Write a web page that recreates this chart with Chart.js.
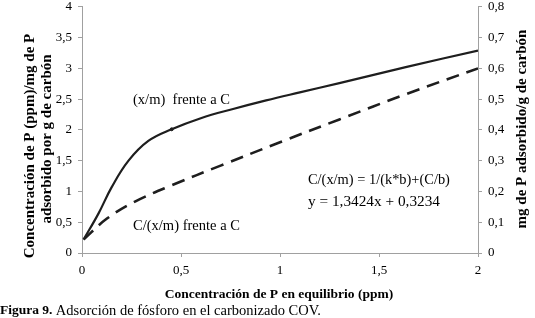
<!DOCTYPE html>
<html><head><meta charset="utf-8">
<script src="https://cdn.jsdelivr.net/npm/chart.js@4.4.1/dist/chart.umd.min.js"></script>
<style>html,body{margin:0;padding:0;background:#fff;overflow:hidden;}#wrap{position:relative;width:535px;height:318px;overflow:hidden;}#c{position:absolute;left:0;top:-7px;}</style>
</head><body><div id="wrap"><canvas id="c" width="535" height="325"></canvas></div>
<script>
const xTicks = [0, 0.5, 1, 1.5, 2];
const leftTicks = [0, 0.5, 1, 1.5, 2, 2.5, 3, 3.5, 4];
const rightTicks = [0, 0.1, 0.2, 0.3, 0.4, 0.5, 0.6, 0.7, 0.8];
// (x/m) frente a C  -> right axis (mg P / g carbón)
const cSolid = [0.008, 0.083, 0.15, 0.235, 0.335, 0.453, 0.6, 0.763, 0.93, 1.1, 1.3, 1.635, 2.0];
const xmSolid = [0.044, 0.128, 0.214, 0.300, 0.364, 0.402, 0.438, 0.468, 0.496, 0.522, 0.552, 0.604, 0.658];
// C/(x/m) frente a C -> left axis
const cDash = [0.008, 0.126, 0.27, 0.453, 0.7, 1.0, 1.3, 1.635, 2.0];
const cxmDash = [0.22, 0.56, 0.84, 1.10, 1.42, 1.80, 2.17, 2.58, 3.00];
const marker = [{x: 0.453, y: 0.402}];

const fmt = v => String(v).replace('.', ',');
const serif = '"Liberation Serif", "Times New Roman", serif';
const axisColor = '#a0a0a0';
const OFF = 7; // canvas is shifted up by this many px

function fitFont(ctx, text, weight, target) {
  ctx.font = weight + ' 10px ' + serif;
  const w = ctx.measureText(text).width;
  const size = 10 * target / w;
  ctx.font = weight + ' ' + size.toFixed(2) + 'px ' + serif;
}
function textAt(ctx, text, weight, x0, x1, y) {
  fitFont(ctx, text, weight, x1 - x0);
  ctx.textAlign = 'left';
  ctx.fillText(text, x0, y + OFF);
}
function textSized(ctx, text, font, x, y, align) {
  ctx.font = font;
  ctx.textAlign = align || 'left';
  ctx.fillText(text, x, y + OFF);
}
function vText(ctx, text, font, cx, cy) {
  ctx.save();
  ctx.font = font;
  ctx.translate(cx, cy + OFF);
  ctx.rotate(-Math.PI / 2);
  ctx.textAlign = 'center';
  ctx.fillText(text, 0, 0);
  ctx.restore();
}

const labelsPlugin = {
  id: 'labels',
  afterDraw(chart) {
    const ctx = chart.ctx;
    ctx.save();
    ctx.fillStyle = '#000';
    ctx.textBaseline = 'middle';
    textAt(ctx, '(x/m)  frente a C', 'normal', 133, 230, 100);
    textAt(ctx, 'C/(x/m) frente a C', 'normal', 133, 240, 226);
    textAt(ctx, 'C/(x/m) = 1/(k*b)+(C/b)', 'normal', 308, 450, 180);
    textAt(ctx, 'y = 1,3424x + 0,3234', 'normal', 308, 440, 202);
    textSized(ctx, 'Concentración de P en equilibrio (ppm)', 'bold 13.5px ' + serif, 279, 295, 'center');
    textSized(ctx, 'Figura 9.', 'bold 13.5px ' + serif, 0, 311);
    ctx.font = 'bold 13.5px ' + serif;
    const w = ctx.measureText('Figura 9. ').width;
    textSized(ctx, 'Adsorción de fósforo en el carbonizado COV.', '14.5px ' + serif, w, 311);
    vText(ctx, 'Concentración de P (ppm)/mg de P', 'bold 15px ' + serif, 30, 146);
    vText(ctx, 'adsorbido por g de carbón', 'bold 15px ' + serif, 47, 139);
    vText(ctx, 'mg de P adsorbido/g de carbón', 'bold 15px ' + serif, 522, 129);
    ctx.restore();
  }
};

new Chart(document.getElementById('c'), {
  type: 'line',
  data: {
    datasets: [
      {
        label: '(x/m) frente a C',
        data: cSolid.map((x, i) => ({x, y: xmSolid[i]})),
        yAxisID: 'y1',
        borderColor: '#1e1e1e',
        borderWidth: 2.2,
        pointRadius: 0,
        tension: 0.4,
        fill: false
      },
      {
        label: 'marker',
        data: marker,
        yAxisID: 'y1',
        showLine: false,
        pointRadius: 1.5,
        pointBackgroundColor: '#1e1e1e',
        pointBorderColor: '#1e1e1e'
      },
      {
        label: 'C/(x/m) frente a C',
        data: cDash.map((x, i) => ({x, y: cxmDash[i]})),
        yAxisID: 'y',
        borderColor: '#1e1e1e',
        borderWidth: 2.6,
        borderDash: [13, 8],
        pointRadius: 0,
        tension: 0.35,
        fill: false
      }
    ]
  },
  options: {
    responsive: false,
    animation: false,
    layout: {padding: {top: 0, bottom: 0, left: 0, right: 0}},
    plugins: {legend: {display: false}, tooltip: {enabled: false}},
    scales: {
      x: {
        type: 'linear', min: 0, max: 2,
        afterBuildTicks: s => { s.ticks = xTicks.map(v => ({value: v})); },
        ticks: {callback: v => fmt(v), color: '#000', font: {family: serif, size: 13}, padding: 6, maxRotation: 0},
        grid: {drawOnChartArea: false, color: axisColor, tickLength: 4},
        border: {color: axisColor},
        afterFit: s => { s.height = 65; }
      },
      y: {
        position: 'left', min: 0, max: 4,
        afterBuildTicks: s => { s.ticks = leftTicks.map(v => ({value: v})); },
        ticks: {callback: v => fmt(v), color: '#000', font: {family: serif, size: 13}, padding: 6},
        grid: {drawOnChartArea: false, color: axisColor, tickLength: 4},
        border: {color: axisColor},
        afterFit: s => { s.width = 82; }
      },
      y1: {
        position: 'right', min: 0, max: 0.8,
        afterBuildTicks: s => { s.ticks = rightTicks.map(v => ({value: v})); },
        ticks: {callback: v => fmt(Math.round(v * 10) / 10), color: '#000', font: {family: serif, size: 13}, padding: 6},
        grid: {drawOnChartArea: false, color: axisColor, tickLength: 4},
        border: {color: axisColor},
        afterFit: s => { s.width = 57; }
      }
    }
  },
  plugins: [labelsPlugin]
});
</script></body></html>
